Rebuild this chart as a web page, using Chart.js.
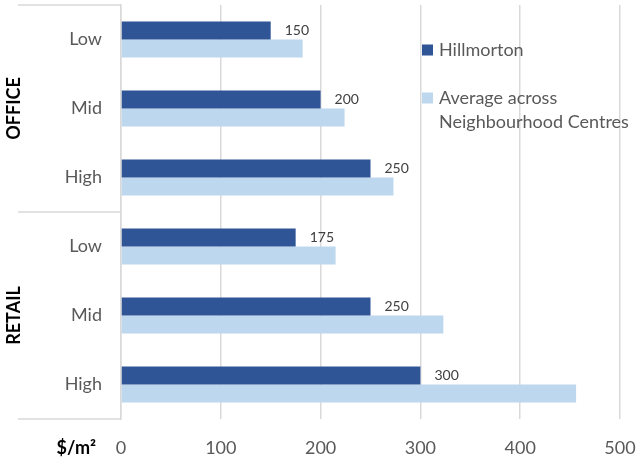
<!DOCTYPE html>
<html>
<head>
<meta charset="utf-8">
<script src="https://cdn.jsdelivr.net/npm/chart.js@4.4.1/dist/chart.umd.min.js"></script>
<style>
    html, body { margin: 0; padding: 0; background: #fff; }
</style>
</head>
<body>
<canvas id="rentChart" width="638" height="459"></canvas>
<script>
const categories = ['Low', 'Mid', 'High', 'Low', 'Mid', 'High'];
const groups = ['OFFICE', 'RETAIL'];
const hillmorton = [150, 200, 250, 175, 250, 300];
const neighbourhoodAvg = [182, 224, 273, 215, 323, 456];
const xTicks = [0, 100, 200, 300, 400, 500];
const seriesNames = ['Hillmorton', 'Average across Neighbourhood Centres'];
const legendLines = [['Hillmorton'], ['Average across', 'Neighbourhood Centres']];
const unitLabel = '$/m²';

const DARK = '#2F5597';
const LIGHT = '#BDD7EE';
const GRID = '#d9d9d9';
const TEXT = '#595959';
const FONT = 'Lato';

// extras drawn on top: group separators, group names, value labels, legend
const extrasPlugin = {
    id: 'extras',
    afterDraw(chart) {
        const ctx = chart.ctx;
        const area = chart.chartArea;
        const yScale = chart.scales.y;
        const xScale = chart.scales.x;

        const mid = (yScale.getPixelForValue(2) + yScale.getPixelForValue(3)) / 2;
        const bounds = [area.top, mid, area.bottom];

        ctx.save();
        ctx.strokeStyle = GRID;
        ctx.lineWidth = 1.5;
        bounds.forEach(y => {
            ctx.beginPath();
            ctx.moveTo(18, y);
            ctx.lineTo(area.left, y);
            ctx.stroke();
        });

        // group names, rotated
        ctx.fillStyle = '#000';
        ctx.font = `bold 18px ${FONT}`;
        ctx.textAlign = 'center';
        ctx.textBaseline = 'middle';
        groups.forEach((g, i) => {
            const cy = (bounds[i] + bounds[i + 1]) / 2;
            ctx.save();
            ctx.translate(14, cy);
            ctx.rotate(-Math.PI / 2);
            ctx.fillText(g, 0, 0);
            ctx.restore();
        });

        // unit label next to x ticks
        ctx.textAlign = 'right';
        ctx.fillText(unitLabel, 96, xScale.top + 29);

        // value labels for Hillmorton
        ctx.font = `14px ${FONT}`;
        ctx.fillStyle = '#404040';
        ctx.textAlign = 'left';
        chart.getDatasetMeta(0).data.forEach((bar, i) => {
            ctx.fillText(hillmorton[i], bar.x + 14, bar.y);
        });

        // legend
        const colors = [DARK, LIGHT];
        const rowsY = [50, 98];
        ctx.font = `18px ${FONT}`;
        legendLines.forEach((lines, i) => {
            ctx.fillStyle = colors[i];
            ctx.fillRect(422, rowsY[i] - 5.5, 11, 11);
            ctx.fillStyle = TEXT;
            lines.forEach((line, j) => {
                ctx.fillText(line, 439, rowsY[i] + j * 24);
            });
        });
        ctx.restore();
    }
};

const ctx = document.getElementById('rentChart').getContext('2d');
const rentChart = new Chart(ctx, {
    type: 'bar',
    data: {
        labels: categories,
        datasets: [{
            label: seriesNames[0],
            data: hillmorton,
            backgroundColor: DARK
        }, {
            label: seriesNames[1],
            data: neighbourhoodAvg,
            backgroundColor: LIGHT
        }]
    },
    options: {
        indexAxis: 'y',
        responsive: false,
        animation: false,
        categoryPercentage: 0.52,
        barPercentage: 1,
        layout: { padding: { top: 5, right: 18, left: 0, bottom: 0 } },
        plugins: {
            legend: { display: false },
            tooltip: { enabled: false }
        },
        scales: {
            x: {
                min: xTicks[0],
                max: xTicks[xTicks.length - 1],
                afterBuildTicks: scale => {
                    scale.ticks = xTicks.map(v => ({ value: v }));
                },
                afterFit: scale => {
                    scale.height = 40;
                    scale.paddingLeft = 0;
                    scale.paddingRight = 0;
                },
                ticks: {
                    color: TEXT,
                    font: { family: FONT, size: 18 },
                    padding: 18
                },
                grid: { color: GRID, lineWidth: 1.5, drawTicks: false },
                border: { display: false }
            },
            y: {
                afterFit: scale => {
                    scale.width = 121;
                    scale.paddingTop = 0;
                    scale.paddingBottom = 0;
                },
                ticks: {
                    color: TEXT,
                    font: { family: FONT, size: 18 },
                    padding: 19
                },
                grid: { display: false, drawTicks: false },
                border: { color: GRID, width: 1.5 }
            }
        }
    },
    plugins: [extrasPlugin]
});
</script>
</body>
</html>
